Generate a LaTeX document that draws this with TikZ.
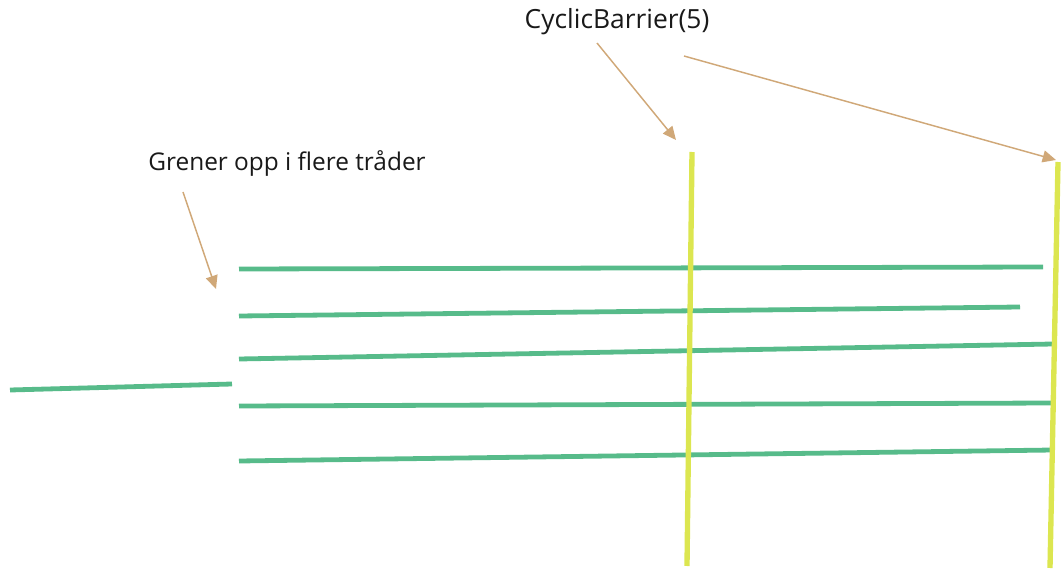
\documentclass[tikz,border=0pt]{standalone}
\usepackage{fontspec}
\setmainfont{Open Sans}
\usetikzlibrary{arrows.meta}
\definecolor{thread}{RGB}{87,187,138}
\definecolor{barrier}{RGB}{220,230,80}
\definecolor{note}{RGB}{208,168,120}
\tikzset{
  threadline/.style={draw=thread,line width=3.6pt},
  barrierline/.style={draw=barrier,line width=4pt},
  notearrow/.style={draw=note,line width=1.1pt,-{Triangle[length=10pt,width=9pt]}},
  label/.style={inner sep=0pt,text=black!90}
}
\begin{document}
\begin{tikzpicture}[x=0.75pt,y=-0.75pt]
\useasboundingbox (0,0) rectangle (1061,574);
% labels
\node[label,font=\fontsize{19.8pt}{23pt}\selectfont] (cb) at (617,22) {CyclicBarrier(5)};
\node[label,font=\fontsize{18.3pt}{22pt}\selectfont] (gr) at (287,163) {Grener opp i flere tråder};
% main thread
\coordinate (m0) at (10,390); \coordinate (m1) at (232,384);
\draw[threadline] (m0) -- (m1);
% branches
\coordinate (a0) at (239,269); \coordinate (a1) at (1043,267);
\coordinate (b0) at (239,316); \coordinate (b1) at (1020,307);
\coordinate (c0) at (239,359); \coordinate (c1) at (1053,344);
\coordinate (d0) at (239,406); \coordinate (d1) at (1053,403);
\coordinate (e0) at (239,461); \coordinate (e1) at (1053,450);
\draw[threadline] (a0) -- (a1);
\draw[threadline] (b0) -- (b1);
\draw[threadline] (c0) -- (c1);
\draw[threadline] (d0) -- (d1);
\draw[threadline] (e0) -- (e1);
% barriers
\coordinate (p0) at (692,152); \coordinate (p1) at (687,566);
\coordinate (q0) at (1058,162); \coordinate (q1) at (1050,568);
\draw[barrierline] (p0) -- (p1);
\draw[barrierline] (q0) -- (q1);
% arrows
\coordinate (g0) at (183,192); \coordinate (g1) at (216,289);
\coordinate (s0) at (597,43); \coordinate (s1) at (676,140);
\coordinate (t0) at (684,56); \coordinate (t1) at (1056,160);
\draw[notearrow] (g0) -- (g1);
\draw[notearrow] (s0) -- (s1);
\draw[notearrow] (t0) -- (t1);
\end{tikzpicture}
\end{document}
